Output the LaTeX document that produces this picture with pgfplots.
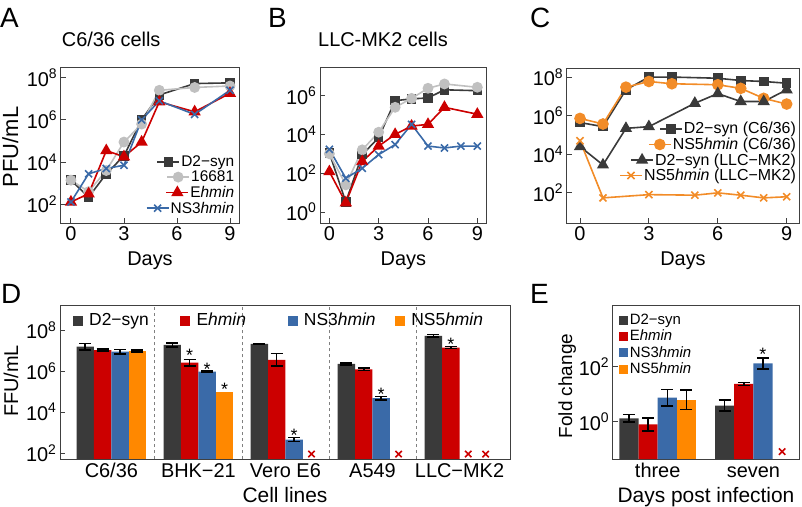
\documentclass[border=0pt]{standalone}
\usepackage{pgfplots}
\pgfplotsset{compat=1.18}
\usepackage{fontspec}
\setmainfont{Liberation Sans}
\definecolor{cdark}{RGB}{58,58,58}
\definecolor{cgray}{RGB}{192,192,192}
\definecolor{cred}{RGB}{204,0,0}
\definecolor{cblue}{RGB}{58,106,168}
\definecolor{corange}{RGB}{255,136,0}
\definecolor{clor}{RGB}{242,140,40}
\newcommand\fs[1]{\fontsize{#1}{#1}\selectfont}
\newcommand\hm{\textit{hmin}}
\newcommand\sx[1]{10\textsuperscript{#1}}
\newcommand\lb[1]{\makebox[89bp][l]{#1}}
\newlength\Aa \newlength\Ab \newlength\Ac \newlength\Ad \newlength\Amax
\newlength\Ca \newlength\Cb \newlength\Cc \newlength\Cd \newlength\Cmax
\newcommand\upmax[2]{\ifdim#2>#1\setlength#1{#2}\fi}
\pgfplotsset{
  every axis/.append style={scale only axis, clip=false,
    axis line style={draw=black!75, line width=0.9bp},
    tick style={draw=black!75, line width=0.9bp},
    major tick length=5bp, tick pos=left, tick align=inside,
    ticklabel style={font=\fs{20}}, minor tick num=0},
  /pgf/number format/assume math mode=true
}
\begin{document}
\settowidth\Aa{\fs{15.5}D2−syn}\settowidth\Ab{\fs{15.5}16681}%
\settowidth\Ac{\fs{15.5}E\hm}\settowidth\Ad{\fs{15.5}NS3\hm}%
\setlength\Amax{\Aa}\upmax\Amax\Ab\upmax\Amax\Ac\upmax\Amax\Ad
\settowidth\Ca{\fs{16}D2−syn (C6/36)}\settowidth\Cb{\fs{16}NS5\hm{} (C6/36)}%
\settowidth\Cc{\fs{16}D2−syn (LLC−MK2)}\settowidth\Cd{\fs{16}NS5\hm{} (LLC−MK2)}%
\setlength\Cmax{\Ca}\upmax\Cmax\Cb\upmax\Cmax\Cc\upmax\Cmax\Cd
\begin{tikzpicture}
\useasboundingbox (0,0) rectangle (802bp,507bp);
% ---------------- A ----------------
\begin{axis}[ymode=log, at={(60.7bp,284bp)}, anchor=south west, width=178.3bp, height=156bp,
  xmin=-0.58, xmax=9.51, ymin=13.2, ymax=3.16e8, xtick={0,3,6,9},
  ytick={1e2,1e4,1e6,1e8}, yticklabels={\sx{2},\sx{4},\sx{6},\sx{8}},
  legend cell align=left,
  legend style={at={(0.985,0.04)}, anchor=south east, font=\fs{15.5}, draw=none, fill=none, row sep=-1bp, inner sep=0pt}]
\addplot[line width=1.6bp, color=cdark, mark=square*, mark size=4bp, forget plot] coordinates {(0,1400)(1,220)(2,2800)(3,20000)(4,1.0e6)(5,1.5e7)(7,5.2e7)(9,5.6e7)};
\addplot[line width=1.6bp, color=cgray, mark=*, mark size=4.6bp, forget plot] coordinates {(0,1400)(1,400)(2,4000)(3,8.9e4)(4,6.3e5)(5,2.5e7)(7,3.4e7)(9,4.0e7)};
\addplot[line width=1.6bp, color=cred, mark=triangle*, mark size=5.5bp, forget plot] coordinates {(0,130)(1,320)(2,3.5e4)(3,1.8e4)(4,8.9e4)(5,7.1e6)(7,2.4e6)(9,1.8e7)};
\addplot[line width=1.6bp, color=cblue, mark=x, mark size=5bp, forget plot] coordinates {(0,130)(1,2800)(2,5000)(3,7100)(4,1.0e6)(5,7.9e6)(7,1.8e6)(9,2.5e7)};
\addlegendimage{legend image code/.code={\path[draw=none,fill=none] (0bp,-5bp) rectangle (22bp,5bp);\draw[overlay, xshift=\Amax-\Aa, line width=1.6bp, color=cdark, mark=square*, mark size=4bp, mark repeat=2, mark phase=2] plot coordinates {(0bp,0bp)(11bp,0bp)(22bp,0bp)};}}
\addlegendentry{\makebox[\Amax][r]{D2−syn}}
\addlegendimage{legend image code/.code={\path[draw=none,fill=none] (0bp,-5bp) rectangle (22bp,5bp);\draw[overlay, xshift=\Amax-\Ab, line width=1.6bp, color=cgray, mark=*, mark size=4.6bp, mark repeat=2, mark phase=2] plot coordinates {(0bp,0bp)(11bp,0bp)(22bp,0bp)};}}
\addlegendentry{\makebox[\Amax][r]{16681}}
\addlegendimage{legend image code/.code={\path[draw=none,fill=none] (0bp,-5bp) rectangle (22bp,5bp);\draw[overlay, xshift=\Amax-\Ac, line width=1.6bp, color=cred, mark=triangle*, mark size=5.5bp, mark repeat=2, mark phase=2] plot coordinates {(0bp,0bp)(11bp,0bp)(22bp,0bp)};}}
\addlegendentry{\makebox[\Amax][r]{E\hm}}
\addlegendimage{legend image code/.code={\path[draw=none,fill=none] (0bp,-5bp) rectangle (22bp,5bp);\draw[overlay, xshift=\Amax-\Ad, line width=1.6bp, color=cblue, mark=x, mark size=5bp, mark repeat=2, mark phase=2] plot coordinates {(0bp,0bp)(11bp,0bp)(22bp,0bp)};}}
\addlegendentry{\makebox[\Amax][r]{NS3\hm}}
\end{axis}
% ---------------- B ----------------
\begin{axis}[ymode=log, at={(320bp,284bp)}, anchor=south west, width=166.7bp, height=156bp,
  xmin=-0.57, xmax=9.57, ymin=0.27, ymax=3.0e7, xtick={0,3,6,9},
  ytick={1,1e2,1e4,1e6}, yticklabels={\sx{0},\sx{2},\sx{4},\sx{6}}]
\addplot[line width=1.6bp, color=cdark, mark=square*, mark size=4bp] coordinates {(0,1100)(1,3.3)(2,910)(3,6800)(4,5.5e5)(5,6.8e5)(6,7.6e5)(7,2.0e6)(9,1.8e6)};
\addplot[line width=1.6bp, color=cgray, mark=*, mark size=4.6bp] coordinates {(0,1000)(1,25)(2,1600)(3,1.3e4)(4,2.5e5)(5,7.2e5)(6,2.4e6)(7,4.0e6)(9,2.7e6)};
\addplot[line width=1.6bp, color=cred, mark=triangle*, mark size=5.5bp] coordinates {(0,120)(1,3.0)(2,400)(3,2500)(4,1.0e4)(5,2.7e4)(6,3.3e4)(7,2.5e5)(9,1.1e5)};
\addplot[line width=1.6bp, color=cblue, mark=x, mark size=5bp] coordinates {(0,1700)(1,55)(2,180)(3,910)(4,3000)(5,3.3e4)(6,2500)(7,2000)(8,2500)(9,2500)};
\end{axis}
% ---------------- C ----------------
\begin{axis}[ymode=log, at={(566.7bp,284bp)}, anchor=south west, width=232.6bp, height=155bp,
  xmin=-0.58, xmax=9.55, ymin=2.75, ymax=2.95e8, xtick={0,3,6,9},
  ytick={1e2,1e4,1e6,1e8}, yticklabels={\sx{2},\sx{4},\sx{6},\sx{8}},
  legend cell align=left,
  legend style={at={(0.995,0.25)}, anchor=south east, font=\fs{16}, draw=none, fill=none, row sep=-1.5bp, inner sep=0pt}]
\addplot[line width=1.6bp, color=cdark, mark=square*, mark size=4bp, forget plot] coordinates {(0,4.4e5)(1,2.7e5)(2,2.2e7)(3,1.0e8)(4,1.0e8)(6,8.7e7)(7,6.6e7)(8,5.9e7)(9,4.8e7)};
\addplot[line width=1.6bp, color=clor, mark=*, mark size=5bp, forget plot] coordinates {(0,7.2e5)(1,3.7e5)(2,3.0e7)(3,5.9e7)(4,4.5e7)(6,4.0e7)(7,2.6e7)(8,7.9e6)(9,4.0e6)};
\addplot[line width=1.6bp, color=cdark, mark=triangle*, mark size=5.5bp, forget plot] coordinates {(0,2.5e4)(1,2800)(2,2.2e5)(3,2.7e5)(5,4.4e6)(6,1.4e7)(7,5.4e6)(8,5.4e6)(9,2.2e7)};
\addplot[line width=1.6bp, color=clor, mark=x, mark size=5bp, forget plot] coordinates {(0,5.0e4)(1,55)(3,81)(5,76)(6,100)(7,76)(8,55)(9,63)};
\addlegendimage{legend image code/.code={\path[draw=none,fill=none] (0bp,-5bp) rectangle (22bp,5bp);\draw[overlay, xshift=\Cmax-\Ca, line width=1.6bp, color=cdark, mark=square*, mark size=4bp, mark repeat=2, mark phase=2] plot coordinates {(0bp,0bp)(11bp,0bp)(22bp,0bp)};}}
\addlegendentry{\makebox[\Cmax][r]{D2−syn (C6/36)}}
\addlegendimage{legend image code/.code={\path[draw=none,fill=none] (0bp,-5bp) rectangle (22bp,5bp);\draw[overlay, xshift=\Cmax-\Cb, line width=1.6bp, color=clor, mark=*, mark size=5bp, mark repeat=2, mark phase=2] plot coordinates {(0bp,0bp)(11bp,0bp)(22bp,0bp)};}}
\addlegendentry{\makebox[\Cmax][r]{NS5\hm{} (C6/36)}}
\addlegendimage{legend image code/.code={\path[draw=none,fill=none] (0bp,-5bp) rectangle (22bp,5bp);\draw[overlay, xshift=\Cmax-\Cc, line width=1.6bp, color=cdark, mark=triangle*, mark size=5.5bp, mark repeat=2, mark phase=2] plot coordinates {(0bp,0bp)(11bp,0bp)(22bp,0bp)};}}
\addlegendentry{\makebox[\Cmax][r]{D2−syn (LLC−MK2)}}
\addlegendimage{legend image code/.code={\path[draw=none,fill=none] (0bp,-5bp) rectangle (22bp,5bp);\draw[overlay, xshift=\Cmax-\Cd, line width=1.6bp, color=clor, mark=x, mark size=5bp, mark repeat=2, mark phase=2] plot coordinates {(0bp,0bp)(11bp,0bp)(22bp,0bp)};}}
\addlegendentry{\makebox[\Cmax][r]{NS5\hm{} (LLC−MK2)}}
\end{axis}
% ---------------- D ----------------
\begin{axis}[ymode=log, log origin y=infty, at={(60bp,48bp)}, anchor=south west, width=450bp, height=154bp,
  xmin=-0.59, xmax=4.58, ymin=51, ymax=1.66e9,
  ytick={1e2,1e4,1e6,1e8}, yticklabels={\sx{2},\sx{4},\sx{6},\sx{8}},
  xtick={0,...,4}, xtick style={draw=none}, xticklabel style={text height=15bp},
  xticklabels={C6/36, BHK−21, Vero E6, A549, LLC−MK2},
  extra x ticks={0.5,1.5,2.5,3.5}, extra x tick labels={},
  extra x tick style={grid=major, major grid style={dashed, black!50, line width=0.8bp}, major tick length=0pt},
  legend columns=4,
  legend style={at={(0.028,0.9)}, anchor=west, font=\fs{17.5}, draw=none, fill=none, inner sep=0pt,
    /tikz/every odd column/.append style={column sep=5bp},
    /tikz/every even column/.append style={column sep=0bp}}]
\addlegendimage{legend image code/.code={\fill[cdark] (0bp,-4.5bp) rectangle (9bp,4.5bp);}}\addlegendentry{\lb{D2−syn}}
\addlegendimage{legend image code/.code={\fill[cred] (0bp,-4.5bp) rectangle (9bp,4.5bp);}}\addlegendentry{\lb{E\hm}}
\addlegendimage{legend image code/.code={\fill[cblue] (0bp,-4.5bp) rectangle (9bp,4.5bp);}}\addlegendentry{\lb{NS3\hm}}
\addlegendimage{legend image code/.code={\fill[corange] (0bp,-4.5bp) rectangle (9bp,4.5bp);}}\addlegendentry{NS5\hm}
\addplot[ybar, bar width=0.2, bar shift=0pt, draw=none, fill=cdark, forget plot,
    error bars/.cd, y dir=both, y explicit relative, error bar style={black, line width=1.5bp},
    error mark options={black, rotate=90, mark size=6bp, line width=1.5bp}] coordinates {
 (-0.3,1.55e7) += (0,0.445) -= (0,0.308)
 (0.7,1.86e7) += (0,0.259) -= (0,0.206)
 (1.7,2.1e7) += (0,0.072) -= (0,0.067)
 (2.7,2.2e6) += (0,0.148) -= (0,0.129)
 (3.7,5.2e7) += (0,0.148) -= (0,0.129)};
\addplot[ybar, bar width=0.2, bar shift=0pt, draw=none, fill=cred, forget plot,
    error bars/.cd, y dir=both, y explicit relative, error bar style={black, line width=1.5bp},
    error mark options={black, rotate=90, mark size=6bp, line width=1.5bp}] coordinates {
 (-0.1,1.05e7) += (0,0.122) -= (0,0.109)
 (0.9,2.57e6) += (0,0.445) -= (0,0.308)
 (1.9,3.5e6) += (0,0.995) -= (0,0.499)
 (2.9,1.2e6) += (0,0.148) -= (0,0.129)
 (3.9,1.4e7) += (0,0.096) -= (0,0.088)};
\addplot[ybar, bar width=0.2, bar shift=0pt, draw=none, fill=cblue, forget plot,
    error bars/.cd, y dir=both, y explicit relative, error bar style={black, line width=1.5bp},
    error mark options={black, rotate=90, mark size=6bp, line width=1.5bp}] coordinates {
 (0.1,8.7e6) += (0,0.259) -= (0,0.206)
 (1.1,9.3e5) += (0,0.096) -= (0,0.088)
 (2.1,450) += (0,0.259) -= (0,0.206)
 (3.1,4.7e4) += (0,0.202) -= (0,0.168)};
\addplot[ybar, bar width=0.2, bar shift=0pt, draw=none, fill=corange, forget plot,
    error bars/.cd, y dir=both, y explicit relative, error bar style={black, line width=1.5bp},
    error mark options={black, rotate=90, mark size=6bp, line width=1.5bp}] coordinates {
 (0.3,9.3e6) += (0,0.122) -= (0,0.109)};
\addplot[ybar, bar width=0.2, bar shift=0pt, draw=none, fill=corange, forget plot] coordinates {(1.3,1.0e5)};
\addplot[only marks, mark=x, mark size=4.5bp, color=cred, line width=1.6bp, forget plot] coordinates {(2.3,89)(3.3,89)(4.1,89)(4.3,89)};
\addplot[only marks, mark=text, text mark={\fs{18}*}, forget plot] coordinates {(0.9,5.5e6)(1.1,1.23e6)(1.3,1.3e5)(2.1,710)(3.1,7.1e4)(3.9,2.0e7)};
\end{axis}
% ---------------- E ----------------
\begin{axis}[ymode=log, log origin y=infty, at={(612.7bp,48bp)}, anchor=south west, width=186.6bp, height=154bp,
  xmin=-0.47, xmax=1.48, ymin=0.0437, ymax=17378,
  xtick={0,1}, xtick style={draw=none}, xticklabel style={text height=15bp},
  xticklabels={three, seven},
  ytick={1,100}, yticklabels={\sx{0},\sx{2}},
  legend cell align=left,
  legend style={at={(0.035,0.955)}, anchor=north west, font=\fs{15}, row sep=0bp, draw=none, fill=none, inner sep=0pt}]
\addlegendimage{legend image code/.code={\fill[cdark] (0bp,-4bp) rectangle (8bp,4bp);}}\addlegendentry{D2−syn}
\addlegendimage{legend image code/.code={\fill[cred] (0bp,-4bp) rectangle (8bp,4bp);}}\addlegendentry{E\hm}
\addlegendimage{legend image code/.code={\fill[cblue] (0bp,-4bp) rectangle (8bp,4bp);}}\addlegendentry{NS3\hm}
\addlegendimage{legend image code/.code={\fill[corange] (0bp,-4bp) rectangle (8bp,4bp);}}\addlegendentry{NS5\hm}
\addplot[ybar, bar width=0.2, bar shift=0pt, draw=none, fill=cdark, forget plot,
    error bars/.cd, y dir=both, y explicit relative, error bar style={black, line width=1.5bp},
    error mark options={black, rotate=90, mark size=6bp, line width=1.5bp}] coordinates {
 (-0.3,1.32) += (0,0.349) -= (0,0.259)
 (0.7,3.8) += (0,0.585) -= (0,0.369)};
\addplot[ybar, bar width=0.2, bar shift=0pt, draw=none, fill=cred, forget plot,
    error bars/.cd, y dir=both, y explicit relative, error bar style={black, line width=1.5bp},
    error mark options={black, rotate=90, mark size=6bp, line width=1.5bp}] coordinates {
 (-0.1,0.79) += (0,0.738) -= (0,0.425)
 (0.9,23.4) += (0,0.148) -= (0,0.129)};
\addplot[ybar, bar width=0.2, bar shift=0pt, draw=none, fill=cblue, forget plot,
    error bars/.cd, y dir=both, y explicit relative, error bar style={black, line width=1.5bp},
    error mark options={black, rotate=90, mark size=6bp, line width=1.5bp}] coordinates {
 (0.1,7.4) += (0,0.995) -= (0,0.499)
 (1.1,132) += (0,0.585) -= (0,0.369)};
\addplot[ybar, bar width=0.2, bar shift=0pt, draw=none, fill=corange, forget plot,
    error bars/.cd, y dir=both, y explicit relative, error bar style={black, line width=1.5bp},
    error mark options={black, rotate=90, mark size=6bp, line width=1.5bp}] coordinates {
 (0.3,6.2) += (0,1.239) -= (0,0.553)};
\addplot[only marks, mark=x, mark size=4.5bp, color=cred, line width=1.6bp, forget plot] coordinates {(1.3,0.081)};
\addplot[only marks, mark=text, text mark={\fs{18}*}, forget plot] coordinates {(1.1,270)};
\end{axis}
% ---------------- texts ----------------
\node[font=\fs{28}, anchor=base west, inner sep=0pt] at (0bp,479bp) {A};
\node[font=\fs{28}, anchor=base west, inner sep=0pt] at (268bp,479bp) {B};
\node[font=\fs{28}, anchor=base west, inner sep=0pt] at (530bp,479bp) {C};
\node[font=\fs{28}, anchor=base west, inner sep=0pt] at (1bp,203bp) {D};
\node[font=\fs{28}, anchor=base west, inner sep=0pt] at (530bp,203bp) {E};
\node[font=\fs{20}, anchor=base west, inner sep=0pt] at (61.7bp,460bp) {C6/36 cells};
\node[font=\fs{20}, anchor=base west, inner sep=0pt] at (318bp,460bp) {LLC-MK2 cells};
\node[font=\fs{20}, anchor=base, inner sep=0pt] at (150bp,241bp) {Days};
\node[font=\fs{20}, anchor=base, inner sep=0pt] at (403.4bp,241bp) {Days};
\node[font=\fs{20}, anchor=base, inner sep=0pt] at (683bp,241bp) {Days};
\node[font=\fs{21}, anchor=base, inner sep=0pt] at (285bp,5bp) {Cell lines};
\node[font=\fs{21}, anchor=base, inner sep=0pt] at (706bp,5bp) {Days post infection};
\node[font=\fs{22}, anchor=base, rotate=90, inner sep=0pt] at (18bp,360bp) {PFU/mL};
\node[font=\fs{20}, anchor=base, rotate=90, inner sep=0pt] at (18bp,126bp) {FFU/mL};
\node[font=\fs{19}, anchor=base, rotate=90, inner sep=0pt] at (572bp,121bp) {Fold change};
\end{tikzpicture}
\end{document}
